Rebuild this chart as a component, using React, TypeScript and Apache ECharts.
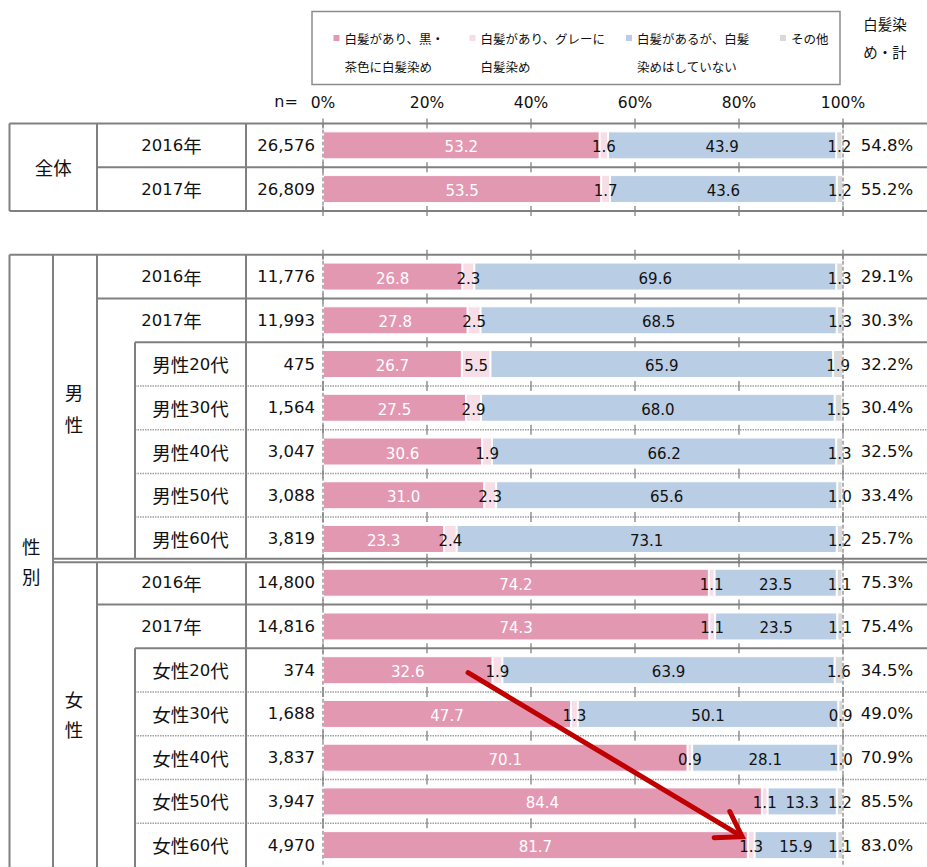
import React, { useEffect, useRef } from 'react';
import * as echarts from 'echarts';

// ---------- data ----------
const rowKeys = ['全体 2016年', '全体 2017年', '', '男性 2016年', '男性 2017年', '男性20代', '男性30代', '男性40代', '男性50代', '男性60代', '女性 2016年', '女性 2017年', '女性20代', '女性30代', '女性40代', '女性50代', '女性60代'];
const rowLabels = ['2016年', '2017年', '', '2016年', '2017年', '男性20代', '男性30代', '男性40代', '男性50代', '男性60代', '2016年', '2017年', '女性20代', '女性30代', '女性40代', '女性50代', '女性60代'];
const sampleSizes = [26576, 26809, null, 11776, 11993, 475, 1564, 3047, 3088, 3819, 14800, 14816, 374, 1688, 3837, 3947, 4970];
const seriesNames = ['白髪があり、黒・茶色に白髪染め', '白髪があり、グレーに白髪染め', '白髪があるが、白髪染めはしていない', 'その他'];
const legendLines = [['白髪があり、黒・', '茶色に白髪染め'], ['白髪があり、グレーに', '白髪染め'], ['白髪があるが、白髪', '染めはしていない'], ['その他']];
const dyedColor = [53.2, 53.5, null, 26.8, 27.8, 26.7, 27.5, 30.6, 31.0, 23.3, 74.2, 74.3, 32.6, 47.7, 70.1, 84.4, 81.7];
const dyedGray = [1.6, 1.7, null, 2.3, 2.5, 5.5, 2.9, 1.9, 2.3, 2.4, 1.1, 1.1, 1.9, 1.3, 0.9, 1.1, 1.3];
const notDyed = [43.9, 43.6, null, 69.6, 68.5, 65.9, 68.0, 66.2, 65.6, 73.1, 23.5, 23.5, 63.9, 50.1, 28.1, 13.3, 15.9];
const other = [1.2, 1.2, null, 1.3, 1.3, 1.9, 1.5, 1.3, 1.0, 1.2, 1.1, 1.1, 1.6, 0.9, 1.0, 1.2, 1.1];
const dyedTotal = [54.8, 55.2, null, 29.1, 30.3, 32.2, 30.4, 32.5, 33.4, 25.7, 75.3, 75.4, 34.5, 49.0, 70.9, 85.5, 83.0];
const xTicks = [0, 20, 40, 60, 80, 100];
const totalHeader = ['白髪染', 'め・計'];
const arrowFrom = { value: 27.9, row: 12 };
const arrowTo = { value: 80.6, row: 16 };

// ---------- style ----------
const colors = ['#E398B2', '#F6DDE6', '#B9CDE5', '#D9D9D9'];
const FONT_LAT = '"DejaVu Sans", "Noto Sans CJK JP", sans-serif';
const FONT_JP = '"Noto Sans CJK JP", sans-serif';
const LINE = '#808080';
const TEXT = '#111111';

function mixedText(s: string) {
  const runs = s.match(/[\x00-\x7F]+|[^\x00-\x7F]+/g) || [];
  return runs.map((r) => (/^[\x00-\x7F]+$/.test(r) ? `{d|${r}}` : `{k|${r}}`)).join('');
}
const richStyles = {
  d: { fontFamily: FONT_LAT, fontSize: 16.5, fill: TEXT, verticalAlign: 'middle' },
  k: { fontFamily: FONT_JP, fontSize: 18.5, fill: TEXT, verticalAlign: 'middle' },
};

export default function App() {
  const ref = useRef<HTMLDivElement>(null);
  useEffect(() => {
    const el = ref.current!;
    const chart = echarts.init(el, null, { renderer: 'svg' });
    const seriesData = [dyedColor, dyedGray, notDyed, other];
    chart.setOption({
      animation: false,
      grid: { left: 323, top: 123.5, width: 520, height: 748 },
      xAxis: {
        type: 'value', position: 'top', min: 0, max: 100, interval: 20,
        axisLine: { show: false }, axisTick: { show: false }, splitLine: { show: false },
        axisLabel: { formatter: '{value}%', fontSize: 15.5, fontFamily: FONT_LAT, color: TEXT, margin: 13 },
      },
      yAxis: { type: 'category', inverse: true, data: rowKeys, show: false },
      series: seriesData.map((d, k) => ({
        name: seriesNames[k], type: 'bar', stack: 'total', data: d, barWidth: 28,
        itemStyle: { color: colors[k], borderColor: '#ffffff', borderWidth: 1 },
        label: {
          show: true, position: 'inside',
          formatter: (p: any) => (p.value == null ? '' : Number(p.value).toFixed(1)),
          color: k === 0 ? '#ffffff' : TEXT, fontSize: 15, fontFamily: FONT_LAT, offset: [0, 2],
        },
        emphasis: { disabled: true },
      })),
    });

    const W = chart.getWidth();
    const H = chart.getHeight();
    const yc = (i: number) => chart.convertToPixel({ yAxisIndex: 0 }, i) as number;
    const xp = (v: number) => chart.convertToPixel({ xAxisIndex: 0 }, v) as number;
    const band = yc(1) - yc(0);
    const top = (i: number) => yc(i) - band / 2;
    const bot = (i: number) => yc(i) + band / 2;

    const els: any[] = [];
    const line = (x1: number, y1: number, x2: number, y2: number, kind = 'solid') => {
      els.push({
        type: 'line', silent: true, z: 5,
        shape: { x1, y1, x2, y2 },
        style: kind === 'dot'
          ? { stroke: '#a0a0a0', lineWidth: 1.5, lineDash: [1.5, 1] }
          : kind === 'dash'
            ? { stroke: LINE, lineWidth: 1.2, lineDash: [4, 2] }
            : { stroke: LINE, lineWidth: 2 },
      });
    };
    const text = (x: number, y: number, s: string, align = 'center', opts: any = {}) => {
      els.push({
        type: 'text', silent: true, z: 20, x, y,
        style: { text: s, align, verticalAlign: 'middle', fill: TEXT, ...opts },
      });
    };

    const cOuter = 9.5, cSub = 53, cGroup = 97, cIndent = 135, cLabel = 246;
    const x0 = xp(0), x100 = xp(100);

    // section 全体
    line(cOuter, top(0), W, top(0));
    line(cGroup, bot(0), W, bot(0));
    line(cOuter, bot(1), W, bot(1));
    [cOuter, cGroup, cLabel].forEach((x) => line(x, top(0), x, bot(1)));
    line(x0, top(0), x0, bot(1), 'dash');
    line(x100, top(0), x100, bot(1), 'dash');

    // section 性別
    const mEnd = bot(9);
    const dA = mEnd - 2, dB = mEnd + 1.5;
    line(cOuter, top(3), W, top(3));
    line(cGroup, bot(3), W, bot(3));
    line(cIndent, bot(4), W, bot(4));
    [5, 6, 7, 8].forEach((i) => line(cIndent, bot(i), W, bot(i), 'dot'));
    line(cSub, dA, W, dA);
    line(cSub, dB, W, dB);
    line(cGroup, bot(10), W, bot(10));
    line(cIndent, bot(11), W, bot(11));
    [12, 13, 14, 15].forEach((i) => line(cIndent, bot(i), W, bot(i), 'dot'));
    line(cOuter, top(3), cOuter, H);
    line(cSub, top(3), cSub, H);
    line(cGroup, top(3), cGroup, dA);
    line(cGroup, dB, cGroup, H);
    line(cIndent, bot(4), cIndent, dA);
    line(cIndent, bot(11), cIndent, H);
    line(cLabel, top(3), cLabel, dA);
    line(cLabel, dB, cLabel, H);
    line(x0, top(3), x0, H, 'dash');
    line(x100, top(3), x100, H, 'dash');

    // tick marks on row boundaries
    const bounds = [top(0), bot(0), bot(1), top(3), ...[3, 4, 5, 6, 7, 8, 10, 11, 12, 13, 14, 15].map(bot), dA, dB];
    bounds.forEach((y) => xTicks.forEach((v) => {
      els.push({ type: 'line', silent: true, z: 6, shape: { x1: xp(v), y1: y - 5, x2: xp(v), y2: y + 5 }, style: { stroke: LINE, lineWidth: 1.3 } });
    }));

    // row texts
    rowKeys.forEach((_, i) => {
      if (sampleSizes[i] == null) return;
      const isAge = rowLabels[i].indexOf('代') >= 0;
      const lx = isAge ? (cIndent + cLabel) / 2 : (cGroup + cLabel) / 2;
      text(lx, yc(i), mixedText(rowLabels[i]), 'center', { rich: richStyles });
      text(315, yc(i), (sampleSizes[i] as number).toLocaleString('en-US'), 'right', { fontFamily: FONT_LAT, fontSize: 16.5 });
      text(887, yc(i), (dyedTotal[i] as number).toFixed(1) + '%', 'center', { fontFamily: FONT_LAT, fontSize: 16.5 });
    });

    // group labels
    const jp = { fontFamily: FONT_JP, fontSize: 18.5 };
    text((cOuter + cGroup) / 2, (top(0) + bot(1)) / 2, '全体', 'center', jp);
    const bMid = (top(3) + bot(16)) / 2;
    text((cOuter + cSub) / 2, bMid - 14.8, '性', 'center', jp);
    text((cOuter + cSub) / 2, bMid + 14.8, '別', 'center', jp);
    const mMid = (top(3) + bot(9)) / 2;
    text(74, mMid - 16, '男', 'center', jp);
    text(74, mMid + 16, '性', 'center', jp);
    const fMid = (top(10) + bot(16)) / 2;
    text(74, fMid - 15, '女', 'center', jp);
    text(74, fMid + 15, '性', 'center', jp);

    // n= and total header
    text(286, 101, 'n=', 'center', { fontFamily: FONT_LAT, fontSize: 16 });
    text(885, 23, totalHeader[0], 'center', { fontFamily: FONT_JP, fontSize: 14.5 });
    text(885, 51, totalHeader[1], 'center', { fontFamily: FONT_JP, fontSize: 14.5 });

    // legend box
    els.push({ type: 'rect', silent: true, z: 4, shape: { x: 312, y: 11.5, width: 528, height: 73 }, style: { fill: '#ffffff', stroke: '#8c8c8c', lineWidth: 1.5 } });
    const legendX = [344.5, 480.5, 637, 791];
    legendLines.forEach((ls, k) => {
      els.push({ type: 'rect', silent: true, z: 6, shape: { x: legendX[k] - 11, y: 35, width: 6, height: 6 }, style: { fill: colors[k] } });
      ls.forEach((s, j) => text(legendX[k], 38 + j * 28, s, 'left', { fontFamily: FONT_JP, fontSize: 12.5 }));
    });

    // arrow
    const p1 = [xp(arrowFrom.value), yc(arrowFrom.row) + 2.5];
    const p2 = [xp(arrowTo.value), yc(arrowTo.row) - 8.5];
    const ang = Math.atan2(p2[1] - p1[1], p2[0] - p1[0]);
    const back = ang + Math.PI;
    const hl = 28, ha = (33 * Math.PI) / 180;
    const a1 = [p2[0] + hl * Math.cos(back - ha), p2[1] + hl * Math.sin(back - ha)];
    const a2 = [p2[0] + hl * Math.cos(back + ha), p2[1] + hl * Math.sin(back + ha)];
    const red = '#C00000';
    els.push({ type: 'line', silent: true, z: 50, shape: { x1: p1[0], y1: p1[1], x2: p2[0] - 3 * Math.cos(ang), y2: p2[1] - 3 * Math.sin(ang) }, style: { stroke: red, lineWidth: 5, lineCap: 'round' } });
    els.push({ type: 'polyline', silent: true, z: 50, shape: { points: [a1, p2, a2] }, style: { stroke: red, lineWidth: 5, lineCap: 'round', lineJoin: 'miter', fill: null } });

    chart.setOption({ graphic: els });
    return () => chart.dispose();
  }, []);
  return <div ref={ref} style={{ position: 'fixed', left: 0, top: 0, width: 927, height: 867, background: '#ffffff' }} />;
}
